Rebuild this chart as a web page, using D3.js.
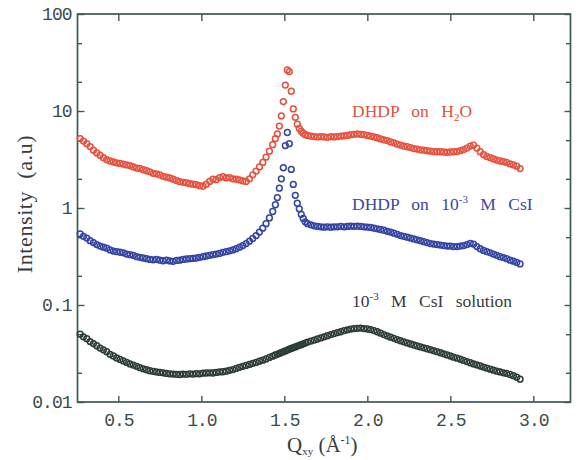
<!DOCTYPE html>
<html><head><meta charset="utf-8">
<script src="https://cdn.jsdelivr.net/npm/d3@7"></script>
<style>body{margin:0;background:#fff}</style></head>
<body><svg id="c" width="578" height="460"></svg>
<script>
// ---------- data ----------
const qValues = [
 0.27,0.29,0.31,0.33,0.35,0.37,0.39,0.41,0.43,0.45,
 0.47,0.49,0.51,0.53,0.55,0.57,0.59,0.61,0.63,0.65,
 0.67,0.69,0.71,0.73,0.75,0.77,0.79,0.81,0.83,0.85,
 0.87,0.89,0.91,0.93,0.95,0.97,0.99,1.01,1.03,1.05,
 1.07,1.09,1.11,1.13,1.15,1.17,1.19,1.21,1.23,1.25,
 1.27,1.29,1.31,1.33,1.35,1.37,1.39,1.41,1.43,
 1.446,1.458,1.470,1.482,1.494,1.506,1.518,1.530,1.542,1.554,1.566,1.578,1.590,1.602,1.614,1.626,
 1.64,1.66,1.68,1.70,1.72,1.74,1.76,1.78,1.80,1.82,
 1.84,1.86,1.88,1.90,1.92,1.94,1.96,1.98,2.00,2.02,
 2.04,2.06,2.08,2.10,2.12,2.14,2.16,2.18,2.20,2.22,
 2.24,2.26,2.28,2.30,2.32,2.34,2.36,2.38,2.40,2.42,
 2.44,2.46,2.48,2.50,2.52,2.54,2.56,2.58,2.60,2.62,
 2.64,2.66,2.68,2.70,2.72,2.74,2.76,2.78,2.80,2.82,
 2.84,2.86,2.88,2.90,2.92
];
const intensityH2O = [
 5.2,4.9,4.6,4.3,3.95,3.7,3.5,3.3,3.15,3.05,
 2.98,2.92,2.88,2.84,2.78,2.74,2.65,2.58,2.56,2.48,
 2.42,2.36,2.28,2.25,2.2,2.12,2.08,2.04,1.98,1.92,
 1.87,1.84,1.82,1.78,1.76,1.74,1.7,1.68,1.76,1.88,
 1.98,1.96,2.06,2.1,2.04,2.06,2.0,1.98,1.95,1.9,
 1.88,2.0,2.2,2.4,2.65,2.95,3.35,3.85,4.5,
 5.2,5.8,7.0,8.9,12.5,18.5,26.5,25.5,16,10.5,8.6,7.3,6.6,6.2,5.9,5.7,
 5.6,5.5,5.45,5.4,5.45,5.4,5.35,5.45,5.4,5.45,
 5.5,5.55,5.6,5.7,5.75,5.8,5.75,5.7,5.6,5.5,
 5.4,5.3,5.15,5.05,4.95,4.8,4.7,4.55,4.45,4.35,
 4.28,4.2,4.1,4.05,3.98,3.95,3.9,3.85,3.82,3.8,
 3.8,3.78,3.75,3.78,3.8,3.82,3.9,4.0,4.15,4.35,
 4.45,4.15,3.8,3.55,3.4,3.3,3.2,3.12,3.05,3.0,
 2.95,2.85,2.78,2.7,2.55
];
const intensityCsI = [
 0.54,0.51,0.49,0.46,0.44,0.42,0.405,0.395,0.385,0.37,
 0.36,0.355,0.35,0.345,0.335,0.33,0.325,0.315,0.31,0.305,
 0.30,0.295,0.292,0.295,0.29,0.286,0.29,0.285,0.282,0.288,
 0.29,0.295,0.298,0.30,0.302,0.305,0.31,0.315,0.32,0.325,
 0.33,0.335,0.34,0.348,0.355,0.362,0.37,0.38,0.395,0.41,
 0.43,0.455,0.485,0.52,0.565,0.62,0.69,0.79,0.92,
 1.08,1.28,1.6,2.0,2.6,4.4,6.0,4.6,2.5,1.75,1.35,1.12,0.98,0.86,0.78,0.72,
 0.69,0.67,0.655,0.645,0.64,0.635,0.64,0.635,0.64,0.64,
 0.645,0.64,0.645,0.65,0.648,0.65,0.645,0.64,0.635,0.63,
 0.62,0.61,0.6,0.59,0.575,0.565,0.55,0.535,0.52,0.51,
 0.5,0.49,0.48,0.47,0.46,0.45,0.44,0.43,0.425,0.42,
 0.415,0.41,0.405,0.405,0.40,0.40,0.405,0.41,0.42,0.432,
 0.425,0.40,0.38,0.365,0.355,0.345,0.335,0.325,0.315,0.308,
 0.3,0.29,0.283,0.275,0.265
];
const intensitySolution = [
 0.050,0.047,0.045,0.042,0.040,0.038,0.036,0.0345,0.033,0.031,
 0.0298,0.0285,0.0275,0.0265,0.0256,0.0247,0.024,0.0233,0.0226,0.022,
 0.0215,0.021,0.0207,0.0204,0.0202,0.02,0.0197,0.0195,0.0194,0.0193,
 0.0192,0.0194,0.0193,0.0195,0.0194,0.0196,0.0195,0.0198,0.0199,0.02,
 0.0199,0.0202,0.0204,0.0205,0.0208,0.0212,0.0216,0.0222,0.0228,0.0233,
 0.0238,0.0244,0.025,0.0256,0.0263,0.027,0.0278,0.0288,0.0297,
 0.0305,0.031,0.0317,0.0323,0.033,0.0336,0.0343,0.035,0.0357,0.0364,0.037,0.0377,0.0384,0.039,0.0398,0.0405,
 0.0415,0.0425,0.0435,0.0446,0.0458,0.047,0.0482,0.0495,0.0508,0.052,
 0.053,0.0545,0.0555,0.0565,0.0572,0.0575,0.0578,0.0572,0.0566,0.0558,
 0.0545,0.053,0.0512,0.0495,0.048,0.0466,0.0453,0.044,0.0428,0.0417,
 0.0406,0.0396,0.0387,0.0378,0.037,0.0362,0.0354,0.0346,0.0338,0.033,
 0.0322,0.0314,0.0306,0.0298,0.029,0.0283,0.0276,0.0268,0.0261,0.0254,
 0.0247,0.0241,0.0235,0.0229,0.0223,0.0218,0.0213,0.0208,0.0204,0.02,
 0.0197,0.0192,0.0187,0.018,0.0172
];
const xTicks = [0.5, 1.0, 1.5, 2.0, 2.5, 3.0];
const yTicks = [0.01, 0.1, 1, 10, 100];
const yTickLabels = ["0.01", "0.1", "1", "10", "100"];
const yMinorTicks = [0.02, 0.05, 0.2, 0.5, 2, 5, 20, 50];

// ---------- layout ----------
const L = 77.5, R = 570.5, T = 14, B = 402;
const frameColor = "#3c5a58";
const tickTextColor = "#3b4a4a";
const svg = d3.select("#c");
const x = d3.scaleLinear().domain([0.254, 3.224]).range([L, R]);
const y = d3.scaleLog().domain([0.01, 100]).range([B, T]);

function styleAxis(g) {
  g.select(".domain").remove();
  g.selectAll(".tick line").attr("stroke", frameColor).attr("stroke-width", 1.4);
  g.selectAll(".tick text")
    .attr("fill", tickTextColor)
    .style("font-family", "'Liberation Mono', monospace")
    .style("font-size", "18px")
    .style("letter-spacing", "-1px");
}

svg.append("g").attr("transform", `translate(0,${B})`)
  .call(d3.axisBottom(x).tickValues(xTicks).tickFormat(d3.format(".1f"))
    .tickSizeInner(-6).tickSizeOuter(0).tickPadding(11)).call(styleAxis);
svg.append("g").attr("transform", `translate(0,${T})`)
  .call(d3.axisTop(x).tickValues(xTicks).tickFormat("").tickSizeInner(-7).tickSizeOuter(0)).call(styleAxis);
svg.append("g").attr("transform", `translate(${L},0)`)
  .call(d3.axisLeft(y).tickValues(yTicks).tickFormat((d, i) => yTickLabels[i])
    .tickSizeInner(-7).tickSizeOuter(0).tickPadding(6)).call(styleAxis);
svg.append("g").attr("transform", `translate(${L},0)`)
  .call(d3.axisLeft(y).tickValues(yMinorTicks).tickFormat("").tickSizeInner(-4.5).tickSizeOuter(0)).call(styleAxis);
svg.append("g").attr("transform", `translate(${R},0)`)
  .call(d3.axisRight(y).tickValues(yTicks).tickFormat("").tickSizeInner(-6).tickSizeOuter(0)).call(styleAxis);
svg.append("g").attr("transform", `translate(${R},0)`)
  .call(d3.axisRight(y).tickValues(yMinorTicks).tickFormat("").tickSizeInner(-4.5).tickSizeOuter(0)).call(styleAxis);

svg.append("rect").attr("x", L).attr("y", T).attr("width", R - L).attr("height", B - T)
  .attr("fill", "none").attr("stroke", frameColor).attr("stroke-width", 1.7);

// ---------- series ----------
const series = [
  { values: intensitySolution, color: "#2b3b36" },
  { values: intensityCsI, color: "#3343a3" },
  { values: intensityH2O, color: "#e6503d" }
];
series.forEach(s => {
  svg.append("g").selectAll("circle")
    .data(qValues.map((q, i) => [q, s.values[i]]))
    .join("circle")
    .attr("cx", d => x(d[0])).attr("cy", d => y(d[1]))
    .attr("r", 2.9).attr("fill", "none")
    .attr("stroke", s.color).attr("stroke-width", 1.5);
});

// ---------- labels ----------
const serif = "'Liberation Serif', 'Times New Roman', serif";
function label(px, py, color, parts) {
  const t = svg.append("text").attr("x", px).attr("y", py)
    .attr("fill", color).style("font-family", serif).style("font-size", "17.5px")
    .style("word-spacing", "8px");
  parts.forEach(p => {
    const ts = t.append("tspan").text(p.t);
    if (p.sub) ts.style("font-size", "11px").attr("dy", 4);
    else if (p.sup) ts.style("font-size", "11px").attr("dy", -7);
    else if (p.dy) ts.attr("dy", p.dy);
  });
}
label(352, 117, "#e0523f", [{t:"DHDP on H"},{t:"2",sub:true},{t:"O",dy:-4}]);
label(352, 210, "#3a48a0", [{t:"DHDP on 10"},{t:"-3",sup:true},{t:" M CsI",dy:7}]);
label(352, 307, "#3a3a3a", [{t:"10"},{t:"-3",sup:true},{t:" M CsI solution",dy:7}]);

// axis titles
svg.append("text").attr("transform", "translate(32,204) rotate(-90)")
  .attr("text-anchor", "middle").attr("fill", "#3a3a3a")
  .style("font-family", serif).style("font-size", "22px")
  .style("letter-spacing", "0.6px").style("word-spacing", "6px")
  .text("Intensity (a.u)");

const xt = svg.append("text").attr("x", 287).attr("y", 452).attr("fill", "#3a3a3a")
  .style("font-family", serif).style("font-size", "21px");
xt.append("tspan").text("Q");
xt.append("tspan").text("xy").style("font-size", "11px").attr("dy", 3);
xt.append("tspan").text(" (Å").attr("dy", -3);
xt.append("tspan").text("-1").style("font-size", "12px").attr("dy", -8);
xt.append("tspan").text(")").attr("dy", 8);
</script>
</body></html>
